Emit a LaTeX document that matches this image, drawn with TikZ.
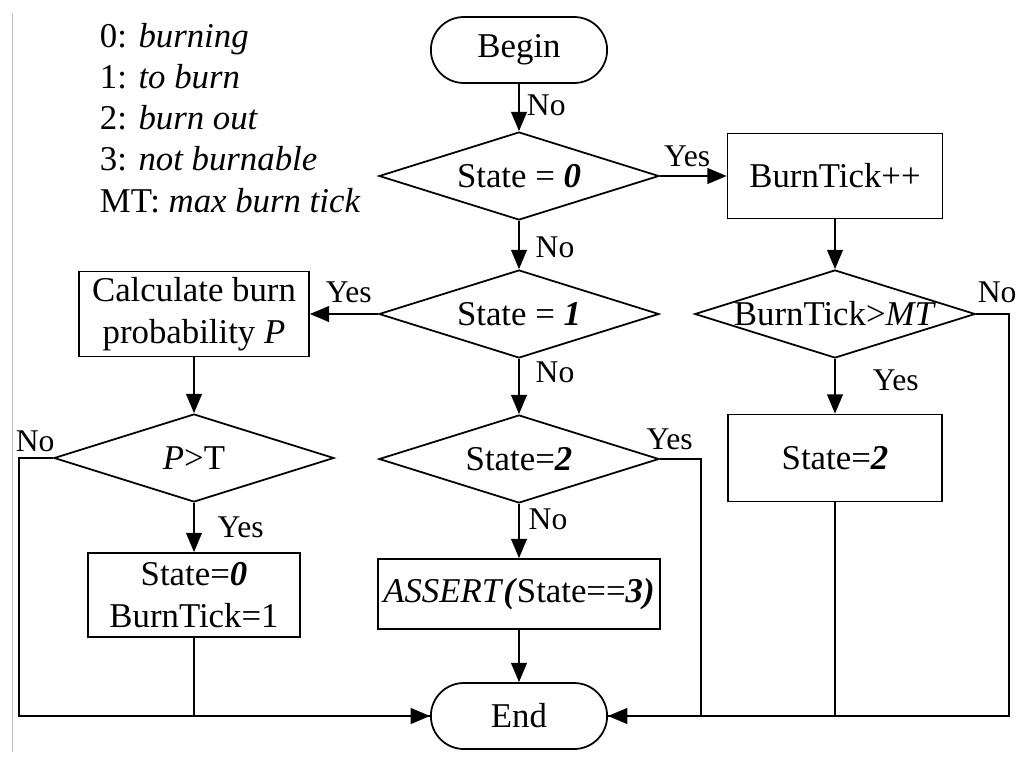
\documentclass[tikz,border=0pt]{standalone}
\usepackage{fontspec}
\setmainfont{Liberation Serif}
\usetikzlibrary{shapes.geometric, shapes.misc}
\usetikzlibrary{arrows.meta}

\begin{document}
\begin{tikzpicture}[x=0.02cm, y=-0.02cm, line width=1pt,
  font=\fontsize{19.8}{23.8}\selectfont,
  term/.style={rounded rectangle, draw, minimum width=3.76cm, minimum height=1.32cm},
  decision/.style={diamond, draw, aspect=3.2, inner sep=0pt, minimum width=5.6cm, minimum height=1.76cm},
  box/.style={rectangle, draw, align=center, inner sep=2pt},
  arr/.style={-{Triangle[length=11pt, width=9pt]}},
  lbl/.style={font=\fontsize{18}{20}\selectfont, inner sep=2pt}]

\useasboundingbox (0,0) rectangle (1024,761);
\draw [gray!50, line width=0.5pt] (12,13) -- (12,752);

\foreach \txt [count=\i] in {{0: \textit{burning}}, {1: \textit{to burn}}, {2: \textit{burn out}},
    {3: \textit{not burnable}}, {MT: \textit{max burn tick}}}
  \node [anchor=base west, inner sep=0pt] (legend\i) at (99, {47+41.3*(\i-1)}) {\txt};

\node [term] (begin) at (519, 50) {Begin};
\node [decision] (state0) at (519, 176) {State = \textbf{\textit{0}}};
\node [box, minimum width=4.3cm, minimum height=1.7cm] (tick) at (835, 176) {BurnTick++};
\node [decision] (state1) at (519, 314) {State = \textbf{\textit{1}}};
\node [decision] (tickmax) at (835, 314) {BurnTick>\textit{MT}};
\node [box, minimum width=4.6cm, minimum height=1.7cm] (calc) at (194, 314) {Calculate burn\\probability \textit{P}};
\node [decision] (ptest) at (194, 458) {\textit{P}>T};
\node [decision] (state2) at (519, 459) {State=\textbf{\textit{2}}};
\node [box, minimum width=4.28cm, minimum height=1.74cm] (burnout) at (835, 458) {State=\textbf{\textit{2}}};
\node [box, minimum width=4.24cm, minimum height=1.68cm] (ignite) at (194, 595) {State=\textbf{\textit{0}}\\BurnTick=1};
\node [box, minimum width=5.64cm, minimum height=1.4cm] (assert) at (519, 594) {\textit{ASSERT}\textbf{\textit{(}}State==\textbf{\textit{3)}}};
\node [term] (end) at (519, 716) {End};

\draw [arr] (begin) -- node [lbl, right=2pt, pos=0.46] {No} (state0);
\draw [arr] (state0) -- node [lbl, above=3pt, pos=0.41] {Yes} (tick);
\draw [arr] (state0) -- node [lbl, right=7pt, pos=0.54] {No} (state1);
\draw [arr] (state1) -- node [lbl, above=4pt, pos=0.43] {Yes} (calc);
\draw [arr] (state1) -- node [lbl, right=7pt, pos=0.24] {No} (state2);
\draw [arr] (state2) -- node [lbl, right=3pt, pos=0.29] {No} (assert);
\draw [arr] (assert) -- (end);
\draw [arr] (tick) -- (tickmax);
\draw [arr] (tickmax) -- node [lbl, right=19pt, pos=0.4] {Yes} (burnout);
\draw [arr] (calc) -- (ptest);
\draw [arr] (ptest) -- node [lbl, right=11pt, pos=0.5] {Yes} (ignite);

\draw [arr] (tickmax.east) -- node [lbl, above=4pt, pos=0.64] {No} ++(33,0) |- (end.east);
\draw (state2.east) -- node [lbl, above=2.5pt, pos=0.24] {Yes} ++(41,0) |- (end.east);
\draw (burnout) |- (end.east);
\draw [arr] (ptest.west) -- node [lbl, above=1pt, pos=0.53] {No} ++(-34,0) |- (end.west);
\draw (ignite) |- (end.west);

\end{tikzpicture}
\end{document}
